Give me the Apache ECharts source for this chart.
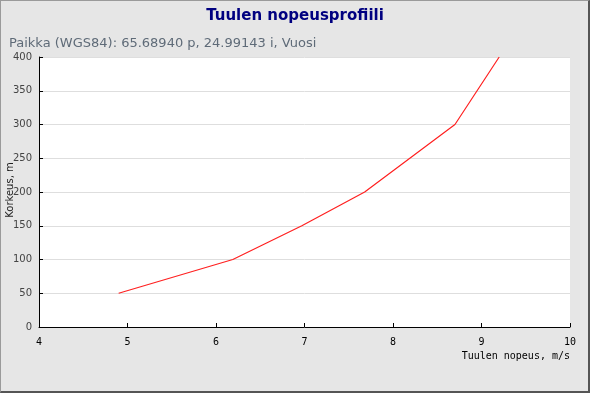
<!DOCTYPE html>
<html><head><meta charset="utf-8">
<script src="https://cdn.jsdelivr.net/npm/echarts@6/dist/echarts.min.js"></script>
<style>
html,body{margin:0;padding:0;background:#e6e6e6;}
#wrap{position:absolute;left:0;top:0;width:590px;height:393px;box-sizing:border-box;border:1px solid #9a9a9a;border-right:2px solid #555;border-bottom:2px solid #555;}
#c{position:absolute;left:0;top:0;width:590px;height:393px;}
</style></head>
<body><div id="c"></div><div id="wrap"></div>
<script>
const titleText = 'Tuulen nopeusprofiili';
const subtitleText = 'Paikka (WGS84): 65.68940 p, 24.99143 i, Vuosi';
const xName = 'Tuulen nopeus, m/s';
const yName = 'Korkeus, m';
const windSpeed = [4.90, 6.19, 6.97, 7.68, 8.70, 9.20];
const height = [50, 100, 150, 200, 300, 400];

const chart = echarts.init(document.getElementById('c'));
chart.setOption({
  backgroundColor: '#e6e6e6',
  animation: false,
  title: [
    {text: titleText, left: 'center', top: 9, padding: 0,
     textStyle: {fontFamily: 'DejaVu Sans', fontWeight: 'bold', fontSize: 15, color: '#000080'}},
    {text: subtitleText, left: 9, top: 37, padding: 0,
     textStyle: {fontFamily: 'DejaVu Sans', fontWeight: 'normal', fontSize: 13, color: '#5f6b78'}}
  ],
  graphic: [{
    type: 'text', x: 10, y: 190, rotation: Math.PI / 2, z: 10,
    style: {text: yName, fontFamily: 'DejaVu Sans', fontSize: 10, fill: '#222', align: 'center', verticalAlign: 'middle'}
  }],
  grid: {left: 39, right: 20, top: 57, bottom: 66, outerBoundsMode: 'none', containLabel: false,
         show: true, backgroundColor: '#ffffff', borderWidth: 0},
  xAxis: {
    type: 'value', min: 4, max: 10, interval: 1,
    name: xName, nameLocation: 'end', nameGap: 0,
    nameTextStyle: {fontFamily: 'DejaVu Sans Mono', fontSize: 10, color: '#000', align: 'right', verticalAlign: 'top', padding: [24, 0, 0, 0]},
    axisLine: {show: true, lineStyle: {color: '#000', width: 1}},
    axisTick: {show: true, inside: true, length: 4, lineStyle: {color: '#000'}},
    axisLabel: {fontFamily: 'DejaVu Sans Mono', fontSize: 10, color: '#000', margin: 10},
    splitLine: {show: false}
  },
  yAxis: {
    type: 'value', min: 0, max: 400, interval: 50,
    axisLine: {show: true, lineStyle: {color: '#000', width: 1}},
    axisTick: {show: true, inside: true, length: 4, lineStyle: {color: '#000'}},
    axisLabel: {fontFamily: 'DejaVu Sans', fontSize: 10, color: '#444', margin: 7},
    splitLine: {show: true, lineStyle: {color: '#dedede', width: 1}}
  },
  series: [{
    type: 'line', data: windSpeed.map((v, i) => [v, height[i]]),
    showSymbol: false, symbol: 'none',
    lineStyle: {color: '#ff2020', width: 1.2}
  }]
});
</script></body></html>
